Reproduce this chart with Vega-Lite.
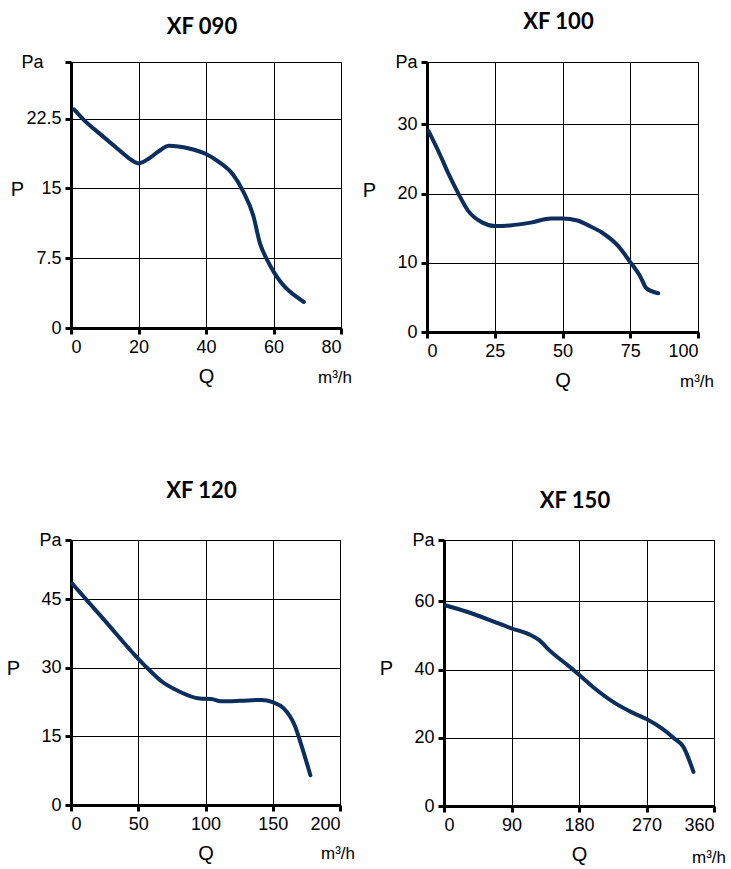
{
  "$schema": "https://vega.github.io/schema/vega-lite/v6.json",
  "background": "white",
  "padding": {"left": 5, "top": 10, "right": 0, "bottom": 0},
  "config": {
    "view": {"stroke": "black", "strokeWidth": 1},
    "axis": {
      "domainColor": "black", "domainWidth": 3,
      "tickColor": "black", "tickWidth": 3, "tickSize": 6,
      "grid": true, "gridColor": "black", "gridWidth": 1, "gridOpacity": 1,
      "labelFont": "Liberation Sans", "labelFontSize": 18, "labelColor": "black",
      "titleFont": "Liberation Sans", "titleFontSize": 20, "titleFontWeight": "normal", "titleColor": "black",
      "labelPadding": 4, "format": ".1~f"
    },
    "axisX": {"titlePadding": 10},
    "axisY": {"titleAngle": 0, "titleX": -58, "titleAlign": "center", "titleBaseline": "middle"},
    "title": {"font": "Lato", "fontSize": 22, "fontWeight": "bold", "color": "black", "frame": "group", "dx": -4}
  },
  "vconcat": [
    {
      "hconcat": [
        {
          "width": 270, "height": 266,
          "title": {"text": "XF 090", "offset": 14},
          "data": {"values": [
            {"Q": 0.9, "P": 23.5}, {"Q": 4, "P": 22.3}, {"Q": 8.5, "P": 20.9}, {"Q": 13.7, "P": 19.3},
            {"Q": 17, "P": 18.3}, {"Q": 20, "P": 17.7}, {"Q": 23, "P": 18.2}, {"Q": 26, "P": 19.0},
            {"Q": 29, "P": 19.6}, {"Q": 35, "P": 19.3}, {"Q": 40, "P": 18.7}, {"Q": 44, "P": 17.8},
            {"Q": 48, "P": 16.5}, {"Q": 51, "P": 14.7}, {"Q": 54, "P": 12.1}, {"Q": 56, "P": 9.1},
            {"Q": 58, "P": 7.4}, {"Q": 60.3, "P": 5.9}, {"Q": 69, "P": 2.8}
          ]},
          "layer": [
            {
              "mark": {"type": "line", "color": "#0b2e5c", "strokeWidth": 4, "interpolate": "monotone", "strokeCap": "round"},
              "encoding": {
                "x": {"field": "Q", "type": "quantitative", "scale": {"domain": [0, 80], "nice": false},
                      "axis": {"values": [0, 20, 40, 60, 80], "title": "Q"}},
                "y": {"field": "P", "type": "quantitative", "scale": {"domain": [0, 28.6], "nice": false},
                      "axis": {"values": [0, 7.5, 15, 22.5, 28.6], "title": "P", "titleY": 127, "titleX": -54,
                               "labelExpr": "datum.value == 28.6 ? 'Pa' : datum.label",
                               "labelPadding": {"condition": {"test": "datum.value == 28.6", "value": 22}, "value": 4}}}
              }
            },
            {
              "data": {"values": [{"u": "m³/h"}]},
              "mark": {"type": "text", "align": "right", "baseline": "alphabetic", "dx": 11, "dy": 55, "font": "Liberation Sans", "fontSize": 17, "color": "black"},
              "encoding": {"x": {"datum": 80}, "y": {"datum": 0}, "text": {"field": "u"}}
            }
          ]
        },
        {
          "width": 271, "height": 270,
          "title": {"text": "XF 100", "offset": 19},
          "data": {"values": [
            {"Q": 0.6, "P": 29.0}, {"Q": 4.8, "P": 25.6}, {"Q": 8, "P": 22.8}, {"Q": 11.3, "P": 20.2},
            {"Q": 15.2, "P": 17.5}, {"Q": 20.5, "P": 15.8}, {"Q": 25, "P": 15.3}, {"Q": 30.7, "P": 15.4},
            {"Q": 38.2, "P": 15.8}, {"Q": 45.8, "P": 16.4}, {"Q": 50, "P": 16.4}, {"Q": 55.5, "P": 16.1},
            {"Q": 60, "P": 15.3}, {"Q": 64.8, "P": 14.3}, {"Q": 70.6, "P": 12.4}, {"Q": 75, "P": 10.1},
            {"Q": 78.6, "P": 8.1}, {"Q": 81, "P": 6.3}, {"Q": 85.3, "P": 5.6}
          ]},
          "layer": [
            {
              "mark": {"type": "line", "color": "#0b2e5c", "strokeWidth": 4, "interpolate": "monotone", "strokeCap": "round"},
              "encoding": {
                "x": {"field": "Q", "type": "quantitative", "scale": {"domain": [0, 100], "nice": false},
                      "axis": {"values": [0, 25, 50, 75, 100], "title": "Q"}},
                "y": {"field": "P", "type": "quantitative", "scale": {"domain": [0, 39], "nice": false},
                      "axis": {"values": [0, 10, 20, 30, 39], "title": "P", "titleY": 128,
                               "labelExpr": "datum.value == 39 ? 'Pa' : datum.label"}}
              }
            },
            {
              "data": {"values": [{"u": "m³/h"}]},
              "mark": {"type": "text", "align": "right", "baseline": "alphabetic", "dx": 16, "dy": 55, "font": "Liberation Sans", "fontSize": 17, "color": "black"},
              "encoding": {"x": {"datum": 100}, "y": {"datum": 0}, "text": {"field": "u"}}
            }
          ]
        }
      ],
      "spacing": 8
    },
    {
      "hconcat": [
        {
          "width": 269, "height": 265,
          "title": {"text": "XF 120", "offset": 28},
          "data": {"values": [
            {"Q": 0.8, "P": 48.5}, {"Q": 25, "P": 40.4}, {"Q": 50, "P": 32.0}, {"Q": 58, "P": 29.6},
            {"Q": 66.8, "P": 27.2}, {"Q": 79.4, "P": 25.0}, {"Q": 95.7, "P": 23.3}, {"Q": 104.4, "P": 23.2},
            {"Q": 111.4, "P": 22.7}, {"Q": 125.4, "P": 22.8}, {"Q": 141.7, "P": 23.0}, {"Q": 150, "P": 22.5},
            {"Q": 158, "P": 21.2}, {"Q": 166.2, "P": 17.5}, {"Q": 172, "P": 12.4}, {"Q": 178, "P": 6.5}
          ]},
          "layer": [
            {
              "mark": {"type": "line", "color": "#0b2e5c", "strokeWidth": 4, "interpolate": "monotone", "strokeCap": "round"},
              "encoding": {
                "x": {"field": "Q", "type": "quantitative", "scale": {"domain": [0, 200], "nice": false},
                      "axis": {"values": [0, 50, 100, 150, 200], "title": "Q"}},
                "y": {"field": "P", "type": "quantitative", "scale": {"domain": [0, 58], "nice": false},
                      "axis": {"values": [0, 15, 30, 45, 58], "title": "P", "titleY": 128,
                               "labelExpr": "datum.value == 58 ? 'Pa' : datum.label"}}
              }
            },
            {
              "data": {"values": [{"u": "m³/h"}]},
              "mark": {"type": "text", "align": "right", "baseline": "alphabetic", "dx": 15, "dy": 54, "font": "Liberation Sans", "fontSize": 17, "color": "black"},
              "encoding": {"x": {"datum": 200}, "y": {"datum": 0}, "text": {"field": "u"}}
            }
          ]
        },
        {
          "width": 270, "height": 266,
          "title": {"text": "XF 150", "offset": 18},
          "data": {"values": [
            {"Q": 2.4, "P": 58.8}, {"Q": 28.4, "P": 57.1}, {"Q": 66.3, "P": 54.1}, {"Q": 90, "P": 52.1},
            {"Q": 112.8, "P": 50.4}, {"Q": 126.6, "P": 48.7}, {"Q": 140.3, "P": 45.7}, {"Q": 167.7, "P": 40.8},
            {"Q": 180, "P": 38.5}, {"Q": 202, "P": 34.3}, {"Q": 227, "P": 30.3}, {"Q": 252, "P": 27.3},
            {"Q": 270, "P": 25.5}, {"Q": 290, "P": 22.8}, {"Q": 307, "P": 19.8}, {"Q": 319, "P": 17.4},
            {"Q": 332.6, "P": 10.0}
          ]},
          "layer": [
            {
              "mark": {"type": "line", "color": "#0b2e5c", "strokeWidth": 4, "interpolate": "monotone", "strokeCap": "round"},
              "encoding": {
                "x": {"field": "Q", "type": "quantitative", "scale": {"domain": [0, 360], "nice": false},
                      "axis": {"values": [0, 90, 180, 270, 360], "title": "Q"}},
                "y": {"field": "P", "type": "quantitative", "scale": {"domain": [0, 78], "nice": false},
                      "axis": {"values": [0, 20, 40, 60, 78], "title": "P", "titleY": 128,
                               "labelExpr": "datum.value == 78 ? 'Pa' : datum.label"}}
              }
            },
            {
              "data": {"values": [{"u": "m³/h"}]},
              "mark": {"type": "text", "align": "right", "baseline": "alphabetic", "dx": 12, "dy": 57, "font": "Liberation Sans", "fontSize": 17, "color": "black"},
              "encoding": {"x": {"datum": 360}, "y": {"datum": 0}, "text": {"field": "u"}}
            }
          ]
        }
      ],
      "spacing": 22
    }
  ],
  "spacing": 88
}
